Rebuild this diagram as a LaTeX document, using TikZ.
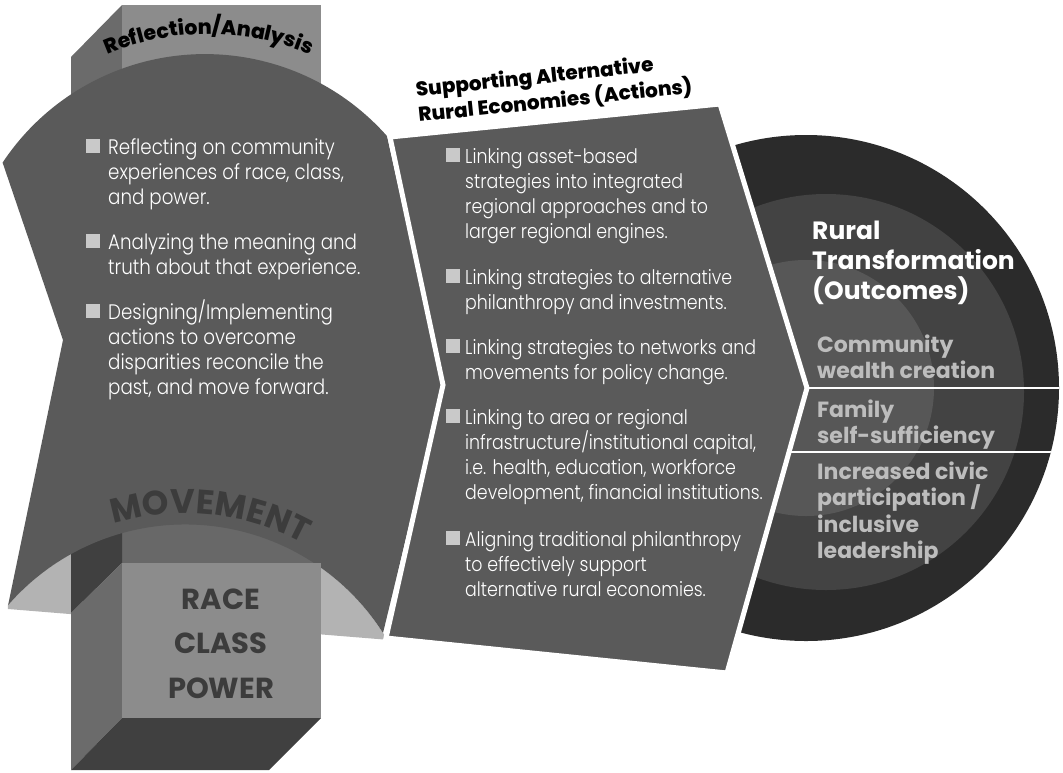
\documentclass[tikz,border=0pt]{standalone}
\usepackage{fontspec}
\setmainfont{Poppins}
\newfontfamily\bodyfont{Poppins Light}[FakeStretch=0.87]
\newfontfamily\heavyfont{Poppins ExtraBold}
\usetikzlibrary{decorations.text}
\definecolor{banner}{HTML}{5A5A5A}
\definecolor{boxfront}{HTML}{8C8C8C}
\definecolor{boxside}{HTML}{6B6B6B}
\definecolor{boxdark}{HTML}{404040}
\definecolor{boxinner}{HTML}{686868}
\definecolor{under}{HTML}{B3B3B3}
\definecolor{ringA}{HTML}{2B2B2B}
\definecolor{ringB}{HTML}{434343}
\definecolor{ringC}{HTML}{575757}
\definecolor{bulletc}{HTML}{C9C9C9}
\definecolor{subtxt}{HTML}{BDBDBD}
\definecolor{movetxt}{HTML}{3C3C3C}
\begin{document}
\begin{tikzpicture}[x=1pt,y=-1pt,
  body/.style={anchor=base west, inner sep=0pt, align=left, text=white,
    font=\bodyfont\fontsize{20}{25}\selectfont},
  lbody/.style={body, font=\bodyfont\fontsize{21}{25}\selectfont},
  bul/.style={fill=bulletc, draw=none, minimum size=14pt, inner sep=0pt, anchor=south west},
  outtitle/.style={anchor=base west, inner sep=0pt, align=left, text=white,
    font=\bfseries\fontsize{25}{30}\selectfont},
  outitem/.style={anchor=base west, inner sep=0pt, align=left, text=subtxt,
    font=\bfseries\fontsize{22}{26.5}\selectfont}]
\useasboundingbox (0,0) rectangle (1063,772);
% ---- top of the box
\fill[boxside] (71,57) -- (122,5) -- (122,250) -- (71,250) -- cycle;
\fill[boxfront] (122,5) rectangle (321,250);
% ---- underside of banner
\fill[under] (7.9,605) arc[start angle=221,end angle=327.5,radius=234.6] -- (390,640) -- (8,609) -- cycle;
% ---- inner top of the lower box
\fill[boxinner] (122,500) rectangle (321,563);
\fill[boxdark] (71,500) -- (122,500) -- (122,563) -- (71,613) -- cycle;
% ---- banner
\fill[banner] (2.6,162.6) arc[start angle=213.6,end angle=318.5,radius=243]
  -- (443,385) -- (383,633) arc[start angle=327.5,end angle=221,radius=234.6]
  -- (63,340) -- cycle;
% ---- lower box
\fill[boxside] (71,613) -- (122,563) -- (122,718) -- (71,770) -- cycle;
\fill[boxfront] (122,563) rectangle (321,718);
\fill[boxdark] (122,718) -- (321,718) -- (269,770) -- (71,770) -- cycle;
% multi-line nodes: base anchor = baseline of the last line
\node[anchor=base, align=center, inner sep=0pt, text=movetxt,
  font=\bfseries\fontsize{29}{44.5}\selectfont] (rcp) at (221,698) {RACE\\CLASS\\POWER};
% ---- curved titles
\path[decorate, decoration={text along path, text align=center, text color=movetxt,
  text={|\bfseries\fontsize{34}{34}\selectfont|MOVEMENT}}]
  (185,759) ++(250:246) arc[start angle=250,end angle=302,radius=246];
\path[decorate, decoration={text along path, text align=center, text color=black,
  text={|\heavyfont\fontsize{20.5}{21}\selectfont|Reflection/Analysis}}]
  (209,290) ++(244:256) arc[start angle=244,end angle=296,radius=256];
% ---- left bullets
\node[bul] (lb1) at (86,153) {};
\node[bul] (lb2) at (86,248) {};
\node[bul] (lb3) at (86,318) {};
\node[lbody] (l1) at (108,204) {Reflecting on community\\experiences of race, class,\\and power.};
\node[lbody] (l2) at (108,274) {Analyzing the meaning and\\truth about that experience.};
\node[lbody] (l3) at (108,394) {Designing/Implementing\\actions to overcome\\disparities reconcile the\\past, and move forward.};
% ---- outcome disc
\fill[ringA] (806,388) circle[radius=253];
\fill[ringB] (826,392) circle[radius=198];
\fill[ringC] (806,388) circle[radius=128];
\begin{scope}
\clip (806,388) circle[radius=253];
\draw[white, line width=2.5pt] (700,388) -- (1100,388);
\draw[white, line width=2.5pt] (700,452) -- (1100,452);
\end{scope}
% ---- actions panel
\path[fill=banner, draw=white, line width=5pt, line join=miter]
  (390,137) -- (720,104) -- (807,388) -- (727,673) -- (386,638) -- (443,385) -- cycle;
\node[rotate=6, anchor=base west, inner sep=0pt, align=left,
  font=\heavyfont\fontsize{20}{25.5}\selectfont] (t2) at (419,122) {Supporting Alternative\\Rural Economies (Actions)};
\node[bul] (mb1) at (446,162) {};
\node[bul] (mb2) at (446,283) {};
\node[bul] (mb3) at (446,353) {};
\node[bul] (mb4) at (446,423) {};
\node[bul] (mb5) at (446,545) {};
\node[body] (m1) at (465,238) {Linking asset-based\\strategies into integrated\\regional approaches and to\\larger regional engines.};
\node[body] (m2) at (465,309) {Linking strategies to alternative\\philanthropy and investments.};
\node[body] (m3) at (465,379) {Linking strategies to networks and\\movements for policy change.};
\node[body] (m4) at (465,499) {Linking to area or regional\\infrastructure/institutional capital,\\i.e. health, education, workforce\\development, financial institutions.};
\node[body] (m5) at (465,596) {Aligning traditional philanthropy\\to effectively support\\alternative rural economies.};
% ---- outcomes text
\node[outtitle] (rt) at (812,299) {Rural\\Transformation\\(Outcomes)};
\node[outitem] (o1) at (817,378.5) {Community\\wealth creation};
\node[outitem] (o2) at (817,443.5) {Family\\self-sufficiency};
\node[outitem] (o3) at (817,558.5) {Increased civic\\participation /\\inclusive\\leadership};
\end{tikzpicture}
\end{document}
